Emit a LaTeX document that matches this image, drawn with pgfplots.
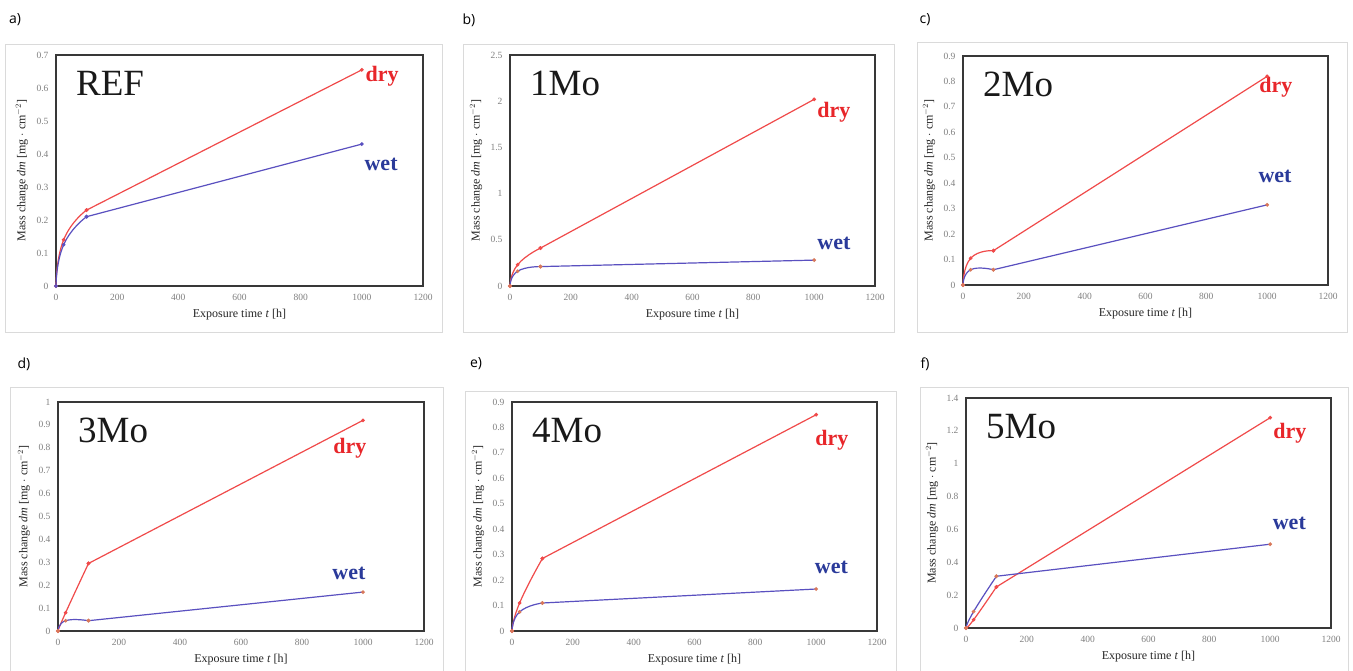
\documentclass[border=0pt]{standalone}
\usepackage{fontspec}
\setmainfont{Liberation Serif}
\newfontfamily\labelfont{Open Sans}
\usepackage{pgfplots}
\pgfplotsset{compat=1.18}
\definecolor{dryc}{HTML}{F04A4A}
\definecolor{wetc}{HTML}{5A50C0}
\definecolor{drytxt}{HTML}{E8262A}
\definecolor{wettxt}{HTML}{2A3A9A}
\definecolor{wetmk}{HTML}{D8785A}
\definecolor{framec}{HTML}{DADADA}
\pgfplotsset{
  panel/.style={
    scale only axis, anchor=south west, clip=false,
    xmin=0, xmax=1200, ymin=0,
    xtick={0,200,400,600,800,1000,1200},
    axis line style={draw=black!78, line width=1.4pt},
    tick style={draw=none},
    tick label style={font=\fontsize{9.5}{9.5}\selectfont, text=black!50},
    /pgf/number format/assume math mode=true,
    /pgf/number format/fixed,
    /pgf/number format/1000 sep={},
    yticklabel style={xshift=-4pt},
    xticklabel style={yshift=-5pt},
    xlabel={Exposure time \textit{t} [h]},
    ylabel={Mass change \textit{dm} [mg $\cdot$ cm$^{-2}$]},
    label style={font=\fontsize{12}{12}\selectfont, text=black!85},
    xlabel style={at={(axis description cs:0.5,-0.125)}, anchor=center},
    ylabel style={at={(axis description cs:-0.093,0.5)}, anchor=center},
  },
  dry/.style={color=dryc, line width=1.2pt, smooth, tension=0.9, mark=*, mark size=1.2pt, mark options={fill=dryc, draw=dryc}},
  wet/.style={color=wetc, line width=1.2pt, smooth, tension=0.9, mark=*, mark size=1.2pt, mark options={fill=wetmk, draw=wetmk}},
  straight/.style={sharp plot},
}
\newcommand{\sample}[1]{\node[anchor=north west, inner sep=0pt, font=\fontsize{37}{37}\selectfont, text=black!90] at ([xshift=20pt,yshift=-16pt]rel axis cs:0,1) {#1};}
\newcommand{\drylab}[2]{\node[font=\fontsize{22}{22}\selectfont\bfseries, text=drytxt] at (axis cs:#1,#2) {dry};}
\newcommand{\wetlab}[2]{\node[font=\fontsize{22}{22}\selectfont\bfseries, text=wettxt] at (axis cs:#1,#2) {wet};}
\begin{document}
\begin{tikzpicture}
\useasboundingbox (0pt,0pt) rectangle (1353pt,671pt);
\fill[white] (0pt,0pt) rectangle (1353pt,671pt);
% outer frames
\draw[framec, line width=1pt] (5pt,338pt) rectangle (442pt,626pt);
\draw[framec, line width=1pt] (463pt,338pt) rectangle (894pt,626pt);
\draw[framec, line width=1pt] (917pt,338pt) rectangle (1347pt,628pt);
\draw[framec, line width=1pt] (10pt,-5pt) rectangle (443pt,283pt);
\draw[framec, line width=1pt] (465pt,-5pt) rectangle (896pt,279pt);
\draw[framec, line width=1pt] (920pt,-5pt) rectangle (1348pt,283pt);
% panel letters
\node[font=\labelfont\fontsize{14}{14}\selectfont] at (15pt,651pt) {a)};
\node[font=\labelfont\fontsize{14}{14}\selectfont] at (469pt,651pt) {b)};
\node[font=\labelfont\fontsize{14}{14}\selectfont] at (925pt,651pt) {c)};
\node[font=\labelfont\fontsize{14}{14}\selectfont] at (24pt,307pt) {d)};
\node[font=\labelfont\fontsize{14}{14}\selectfont] at (476pt,307pt) {e)};
\node[font=\labelfont\fontsize{14}{14}\selectfont] at (925pt,307pt) {f)};

% a) REF
\begin{axis}[panel, at={(56pt,385pt)}, width=367pt, height=231pt, ymax=0.7,
  ytick={0,0.1,0.2,0.3,0.4,0.5,0.6,0.7}]
\addplot[dry] coordinates {(0,0) (25,0.14) (100,0.23)};
\addplot[dry, straight] coordinates {(100,0.23) (1000,0.655)};
\addplot[wet, mark options={fill=wetc, draw=wetc}] coordinates {(0,0) (25,0.125) (100,0.21)};
\addplot[wet, straight, mark options={fill=wetc, draw=wetc}] coordinates {(100,0.21) (1000,0.43)};
\sample{REF}
\drylab{1066}{0.636}
\wetlab{1063}{0.367}
\end{axis}

% b) 1Mo
\begin{axis}[panel, at={(510pt,385pt)}, width=365pt, height=231pt, ymax=2.5,
  ytick={0,0.5,1,1.5,2,2.5}]
\addplot[dry] coordinates {(0,0) (25,0.23) (100,0.41)};
\addplot[dry, straight] coordinates {(100,0.41) (1000,2.02)};
\addplot[wet] coordinates {(0,0) (25,0.16) (100,0.21)};
\addplot[wet, straight] coordinates {(100,0.21) (1000,0.28)};
\sample{1Mo}
\drylab{1065}{1.88}
\wetlab{1065}{0.465}
\end{axis}

% c) 2Mo
\begin{axis}[panel, at={(963pt,386pt)}, width=365pt, height=229pt, ymax=0.9,
  ytick={0,0.1,0.2,0.3,0.4,0.5,0.6,0.7,0.8,0.9}]
\addplot[dry] coordinates {(0,0) (25,0.105) (100,0.135)};
\addplot[dry, straight] coordinates {(100,0.135) (1000,0.82)};
\addplot[wet] coordinates {(0,0) (25,0.06) (100,0.06)};
\addplot[wet, straight] coordinates {(100,0.06) (1000,0.315)};
\sample{2Mo}
\drylab{1029}{0.778}
\wetlab{1026}{0.428}
\end{axis}

% d) 3Mo
\begin{axis}[panel, at={(58pt,40pt)}, width=366pt, height=229pt, ymax=1,
  ytick={0,0.1,0.2,0.3,0.4,0.5,0.6,0.7,0.8,0.9,1}]
\addplot[dry] coordinates {(0,0) (25,0.08) (100,0.295)};
\addplot[dry, straight] coordinates {(100,0.295) (1000,0.92)};
\addplot[wet] coordinates {(0,0) (25,0.045) (100,0.045)};
\addplot[wet, straight] coordinates {(100,0.045) (1000,0.17)};
\sample{3Mo}
\drylab{957}{0.80}
\wetlab{954}{0.253}
\end{axis}

% e) 4Mo
\begin{axis}[panel, at={(512pt,40pt)}, width=365pt, height=229pt, ymax=0.9,
  ytick={0,0.1,0.2,0.3,0.4,0.5,0.6,0.7,0.8,0.9}]
\addplot[dry] coordinates {(0,0) (25,0.11) (100,0.285)};
\addplot[dry, straight] coordinates {(100,0.285) (1000,0.85)};
\addplot[wet] coordinates {(0,0) (25,0.075) (100,0.11)};
\addplot[wet, straight] coordinates {(100,0.11) (1000,0.165)};
\sample{4Mo}
\drylab{1052}{0.75}
\wetlab{1050}{0.248}
\end{axis}

% f) 5Mo
\begin{axis}[panel, at={(966pt,43pt)}, width=365pt, height=230pt, ymax=1.4,
  ytick={0,0.2,0.4,0.6,0.8,1,1.2,1.4}]
\addplot[dry] coordinates {(0,0) (25,0.05) (100,0.25)};
\addplot[dry, straight] coordinates {(100,0.25) (1000,1.28)};
\addplot[wet] coordinates {(0,0) (25,0.1) (100,0.315)};
\addplot[wet, straight] coordinates {(100,0.315) (1000,0.51)};
\sample{5Mo}
\drylab{1065}{1.187}
\wetlab{1063}{0.639}
\end{axis}
\end{tikzpicture}
\end{document}
